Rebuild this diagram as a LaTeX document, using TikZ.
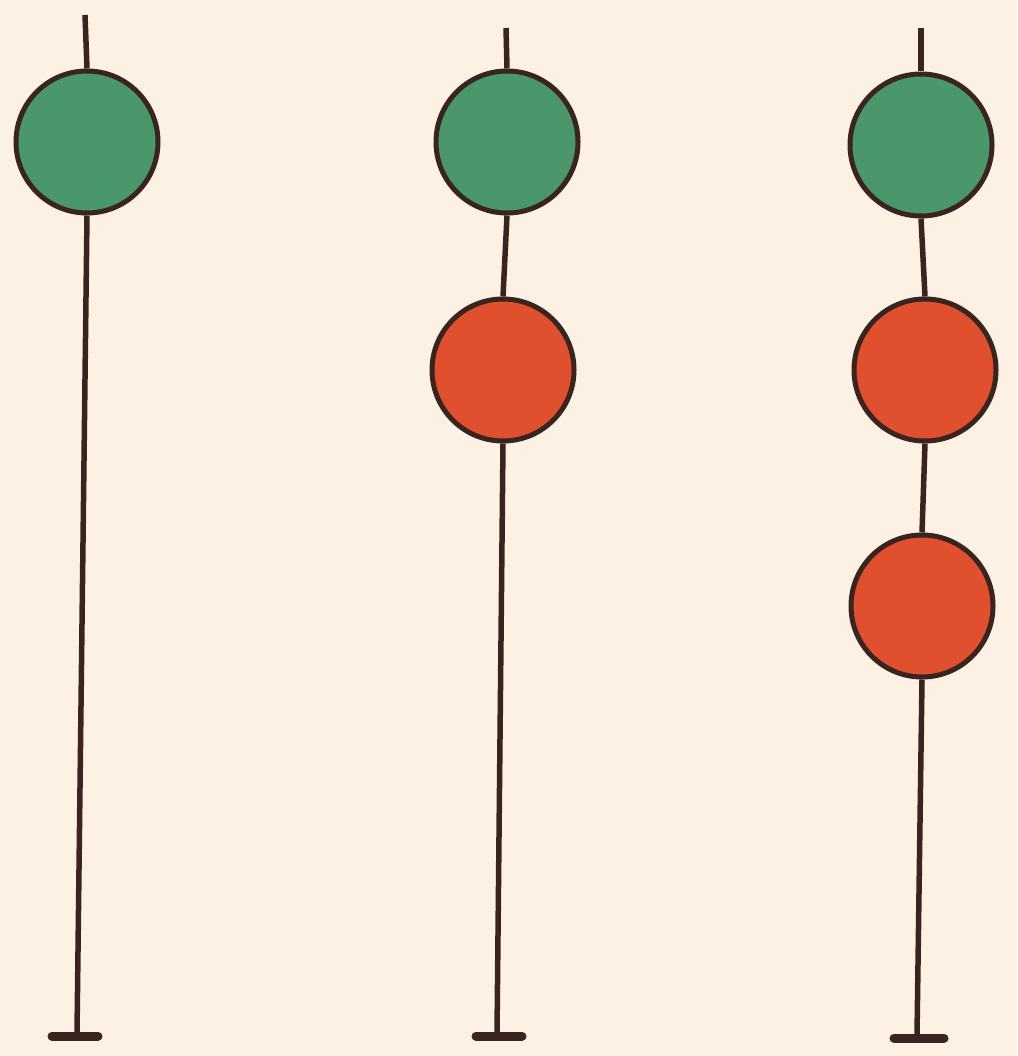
\documentclass[tikz,border=0pt]{standalone}
\definecolor{bg}{HTML}{FCF1E3}
\definecolor{disc green}{HTML}{4A976C}
\definecolor{disc red}{HTML}{E0502E}
\definecolor{pole}{HTML}{3A2420}
\begin{document}
\begin{tikzpicture}[x=1pt,y=-1pt,
  disc/.style={circle,draw=pole,line width=5pt,minimum size=142pt,inner sep=0pt},
  greendisc/.style={disc,fill=disc green},
  reddisc/.style={disc,fill=disc red},
  polestyle/.style={draw=pole,line width=5.5pt},
  footstyle/.style={draw=pole,line width=9pt,line cap=round}]
\fill[bg] (0,0) rectangle (1017,1056);
\useasboundingbox (0,0) rectangle (1017,1056);
% pole 1
\coordinate (t1) at (85,15);
\node[greendisc] (g1) at (87,142) {};
\coordinate (b1) at (77,1033);
\coordinate (fl1) at (52,1036);
\coordinate (fr1) at (98,1036);
\draw[polestyle] (t1) -- (g1.north);
\draw[polestyle] (g1.south) -- (b1);
\draw[footstyle] (fl1) -- (fr1);
% pole 2
\coordinate (t2) at (506,28);
\node[greendisc] (g2) at (507,142) {};
\node[reddisc] (r2) at (503,370) {};
\coordinate (b2) at (497,1033);
\coordinate (fl2) at (476,1036);
\coordinate (fr2) at (522,1036);
\draw[polestyle] (t2) -- (g2.north);
\draw[polestyle] (g2.south) -- (r2.north);
\draw[polestyle] (r2.south) -- (b2);
\draw[footstyle] (fl2) -- (fr2);
% pole 3
\coordinate (t3) at (921,28);
\node[greendisc] (g3) at (921,145) {};
\node[reddisc] (r3) at (925,370) {};
\node[reddisc] (s3) at (922,606) {};
\coordinate (b3) at (917,1035);
\coordinate (fl3) at (894,1038);
\coordinate (fr3) at (944,1038);
\draw[polestyle] (t3) -- (g3.north);
\draw[polestyle] (g3.south) -- (r3.north);
\draw[polestyle] (r3.south) -- (s3.north);
\draw[polestyle] (s3.south) -- (b3);
\draw[footstyle] (fl3) -- (fr3);
\end{tikzpicture}
\end{document}
